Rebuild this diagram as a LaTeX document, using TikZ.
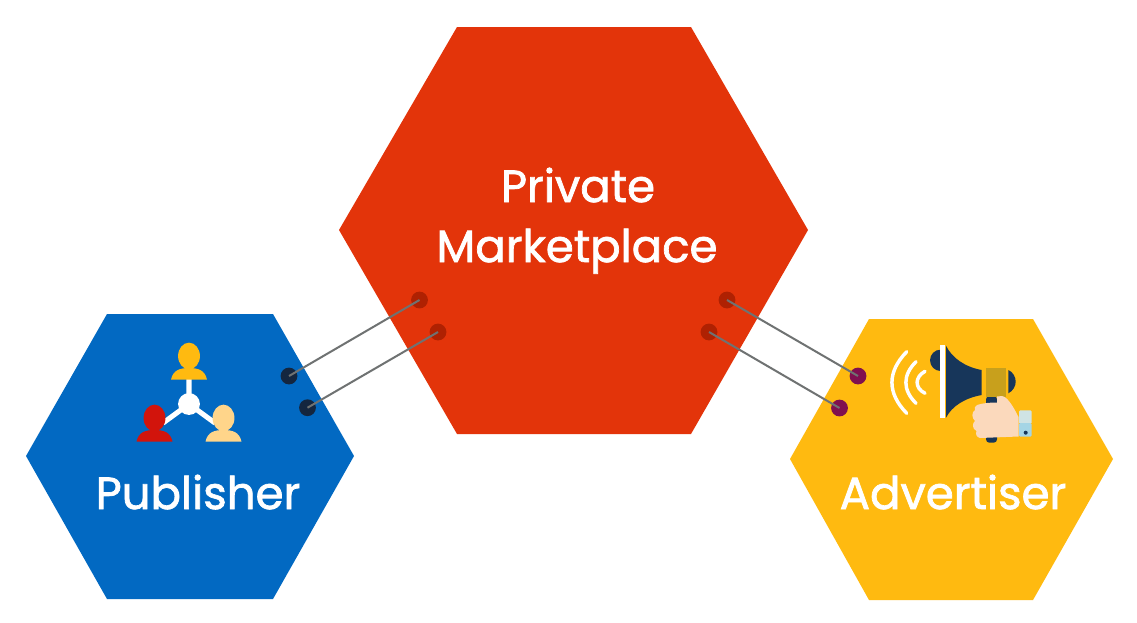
\documentclass[tikz,border=0pt]{standalone}
\usepackage{fontspec}
\newfontfamily\hexfont[FakeBold=1.6]{Poppins}
\definecolor{hexblue}{HTML}{0269C2}
\definecolor{hexred}{HTML}{E3340A}
\definecolor{hexyellow}{HTML}{FFBA10}
\definecolor{dotnavy}{HTML}{14263F}
\definecolor{dotred}{HTML}{AF2102}
\definecolor{dotpurple}{HTML}{80104F}
\definecolor{linkgray}{HTML}{6F7272}
\definecolor{pred}{HTML}{D2140C}
\definecolor{pbeige}{HTML}{FFD58A}
\definecolor{mnavy}{HTML}{17365A}
\definecolor{mgold}{HTML}{C8A01C}
\definecolor{skin}{HTML}{FBD9BC}
\definecolor{cuffa}{HTML}{CFE3E4}
\definecolor{cuffb}{HTML}{A5D5E5}
\tikzset{
  x=0.75pt,y=-0.75pt,
  hexlabel/.style={text=white,font=\hexfont\fontsize{33.8}{33.8}\selectfont,inner sep=0pt,anchor=base},
  pin/.style={circle,minimum size=12.6pt,inner sep=0pt,draw=none},
  link/.style={draw=linkgray,line width=1.5pt},
}
\newcommand{\person}[3]{%
  \fill[#1] (#2,#3) ellipse (8.2pt and 10pt);
  \fill[#1] (#2-18,#3+23.7) .. controls (#2-16,#3+14) and (#2-9,#3+12) .. (#2,#3+12)
     .. controls (#2+9,#3+12) and (#2+16,#3+14) .. (#2+18,#3+23.7) -- cycle;
}
\begin{document}
\begin{tikzpicture}
\useasboundingbox (0,0) rectangle (1137,622);
\fill[white] (0,0) rectangle (1137,622);
% hexagons
\fill[hexred] (457,27) -- (691,27) -- (808,230) -- (691,434) -- (457,434) -- (339,230) -- cycle;
\fill[hexblue] (107,314) -- (273,314) -- (354,456) -- (273,599) -- (107,599) -- (26,456) -- cycle;
\fill[hexyellow] (869,319) -- (1033,319) -- (1113,459) -- (1033,600) -- (869,600) -- (790,459) -- cycle;
% labels
\node[hexlabel] (private) at (578,202) {Private};
\node[hexlabel] (market) at (577,262) {Marketplace};
\node[hexlabel] (publisher) at (198,509) {Publisher};
\node[hexlabel] (advertiser) at (953,509) {Advertiser};
% publisher icon
\draw[white,line width=3.8pt] (189,404) -- (189,378) (189,404) -- (163,423) (189,404) -- (215,423);
\person{hexyellow}{189}{356}
\person{pred}{154.5}{418}
\person{pbeige}{223.5}{418}
\fill[white] (189,404) circle (8.2pt);
% megaphone icon
\draw[white,line width=2.6pt,line cap=round] (906.7,351.7) .. controls (887,372) and (887,393) .. (906.7,413.3);
\draw[white,line width=2.6pt,line cap=round] (916,361.7) .. controls (902.5,375) and (902.5,390) .. (916,403.3);
\draw[white,line width=2.6pt,line cap=round] (925,371.3) .. controls (914.5,377) and (914.5,388) .. (925,393.3);
\fill[mnavy] (940.7,371) arc (90:270:10.7) -- cycle;
\fill[white] (940,345) rectangle (945.3,417.7);
\fill[mnavy] (946,345.7) .. controls (952,358) and (965,367) .. (981.7,370) -- (981.7,395) .. controls (965,398) and (952,406) .. (946,417.7) -- cycle;
\fill[mnavy] (1008.3,370) .. controls (1013,372) and (1015.7,377) .. (1015.7,381.7) .. controls (1015.7,386) and (1013,391) .. (1008.3,393.3) -- cycle;
\fill[mnavy, rounded corners=2.5pt] (986,396) rectangle (997,442.7);
\fill[mgold] (985.7,367.7) rectangle (1005.7,396.7);
\fill[skin] (977,405) .. controls (983,403) and (990,402.5) .. (997,402.5) -- (997,396.5) -- (1002,396) .. controls (1008,397) and (1014,408) .. (1018.5,417) -- (1018.5,436.5) -- (980,438) .. controls (976,437) and (975.5,434) .. (976.5,431) .. controls (972,429) and (972,423) .. (975,421) .. controls (971.5,418) and (971.5,412) .. (975,410) .. controls (974,408) and (975,406) .. (977,405) -- cycle;
\fill[cuffa, rounded corners=1pt] (1019,410.3) rectangle (1031.7,424);
\fill[cuffb, rounded corners=1pt] (1019,423) rectangle (1031.7,436.7);
\fill[mnavy] (1025.7,432.7) circle (1.5pt);
% pins
\node[pin,fill=dotred] (r1) at (419.5,300) {};
\node[pin,fill=dotred] (r2) at (438,332) {};
\node[pin,fill=dotred] (r3) at (727,300) {};
\node[pin,fill=dotred] (r4) at (709,332) {};
\node[pin,fill=dotnavy] (b1) at (289,376) {};
\node[pin,fill=dotnavy] (b2) at (307.5,407.7) {};
\node[pin,fill=dotpurple] (y1) at (858,376) {};
\node[pin,fill=dotpurple] (y2) at (839.5,408) {};
% connectors
\draw[link] (r1.center) -- (b1.center);
\draw[link] (r2.center) -- (b2.center);
\draw[link] (r3.center) -- (y1.center);
\draw[link] (r4.center) -- (y2.center);
\end{tikzpicture}
\end{document}
